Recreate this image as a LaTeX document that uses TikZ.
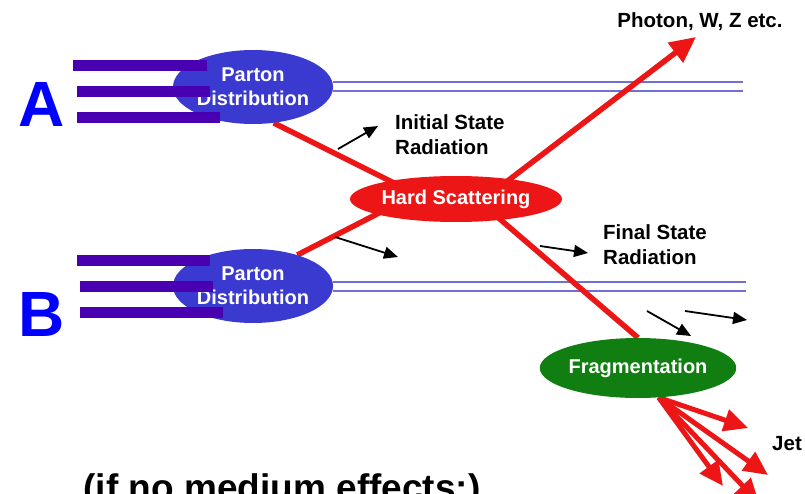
\documentclass[tikz,border=0pt]{standalone}
\usepackage{fontspec}
\setmainfont{Liberation Sans}
\usepackage{xcolor}
\usetikzlibrary{arrows.meta, shapes.geometric, backgrounds}

\definecolor{partonblue}{RGB}{58,58,208}
\definecolor{barpurple}{RGB}{72,0,176}
\definecolor{beamblue}{RGB}{112,112,212}
\definecolor{hardred}{RGB}{236,22,22}
\definecolor{fraggreen}{RGB}{16,126,16}
\definecolor{labelblue}{RGB}{0,0,255}

\begin{document}
\begin{tikzpicture}[x=1pt, y=-1pt, >={Triangle[length=14pt,width=12pt]},
    blob/.style={ellipse, inner sep=0pt, text=white, align=center,
        font=\bfseries\fontsize{20}{24}\selectfont},
    parton/.style={blob, fill=partonblue, minimum width=160pt, minimum height=74pt},
    beam/.style={draw=beamblue, line width=2pt, double=white, double distance=7pt},
    quark/.style={draw=hardred, line width=5.5pt},
    jet/.style={quark, line width=5pt, -{Triangle[length=24pt,width=22pt]}},
    rad/.style={->, line width=1.8pt},
    lbl/.style={font=\bfseries\fontsize{20.5}{25}\selectfont, align=left, inner sep=0pt}]
                \useasboundingbox (0,0) rectangle (805,494);

                % 1. Các khối chính
                \node[parton] (partonA) at (253,87) {Parton\\Distribution};
                \node[parton] (partonB) at (253,286) {Parton\\Distribution};
                \node[blob, fill=hardred, minimum width=212pt, minimum height=46pt]
                    (hard) at (456,199) {Hard Scattering};
                \node[blob, fill=fraggreen, minimum width=192pt, minimum height=60pt]
                    (frag) at (638,368) {Fragmentation};

                % 2. Chùm hạt và các đường đỏ (nằm phía sau)
                \coordinate (beamAend) at (743,87);
                \coordinate (beamBend) at (746,286);
                \coordinate (hin) at (416,194);
                \coordinate (hout) at (480,202);
                \coordinate (photon) at (696,37);
                \coordinate (jetA) at (748,428);
                \coordinate (jetB) at (768,475);
                \coordinate (jetC) at (759,503);
                \coordinate (jetD) at (723,486);
                \begin{scope}[on background layer]
                    \draw[beam] (partonA.east) -- (beamAend);
                    \draw[beam] (partonB.east) -- (beamBend);
                    \draw[quark] (partonA.-60) -- (hin);
                    \draw[quark] (partonB.35) -- (hin);
                    \draw[quark, -{Triangle[length=26pt,width=24pt]}] (hout) -- (photon);
                    \draw[quark] (hout) -- (frag.north);
                    \foreach \j in {jetA,jetB,jetC,jetD} {
                        \draw[jet] (frag.-55) -- (\j);
                    }
                \end{scope}

                % 3. Các vạch của hadron A, B
                \foreach \yb/\xa/\xb in {65.5/73/207, 91.5/77/210, 117.5/77/220,
                                         260.5/77/210, 286.5/80/213, 312/80/223} {
                    \fill[barpurple] (\xa,\yb-5.5) rectangle (\xb,\yb+5.5);
                }
                \node[font=\bfseries\fontsize{64}{64}\selectfont, text=labelblue]
                    (hadronA) at (42,104) {A};
                \node[font=\bfseries\fontsize{64}{64}\selectfont, text=labelblue]
                    (hadronB) at (42,314) {B};

                % 4. Bức xạ (mũi tên đen)
                \coordinate (isrA) at (338,149); \coordinate (isrB) at (378,126);
                \coordinate (isrC) at (335,237); \coordinate (isrD) at (398,257);
                \coordinate (fsrA) at (540,246); \coordinate (fsrB) at (588,253);
                \coordinate (fsrC) at (647,311); \coordinate (fsrD) at (691,336);
                \coordinate (fsrE) at (685,311); \coordinate (fsrF) at (747,320);
                \draw[rad] (isrA) -- (isrB);
                \draw[rad] (isrC) -- (isrD);
                \draw[rad] (fsrA) -- (fsrB);
                \draw[rad] (fsrC) -- (fsrD);
                \draw[rad] (fsrE) -- (fsrF);

                % 5. Nhãn
                \node[lbl, anchor=base] (photonlbl) at (700,28) {Photon, W, Z etc.};
                \node[lbl, anchor=west] (isrlbl) at (395,135) {Initial State\\Radiation};
                \node[lbl, anchor=west] (fsrlbl) at (603,245) {Final State\\Radiation};
                \node[lbl, anchor=base west] (jetlbl) at (772,450) {Jet};
                \node[font=\bfseries\fontsize{37}{40}\selectfont, anchor=base]
                    (note) at (282,500) {(if no medium effects:)};
            \end{tikzpicture}
\end{document}
